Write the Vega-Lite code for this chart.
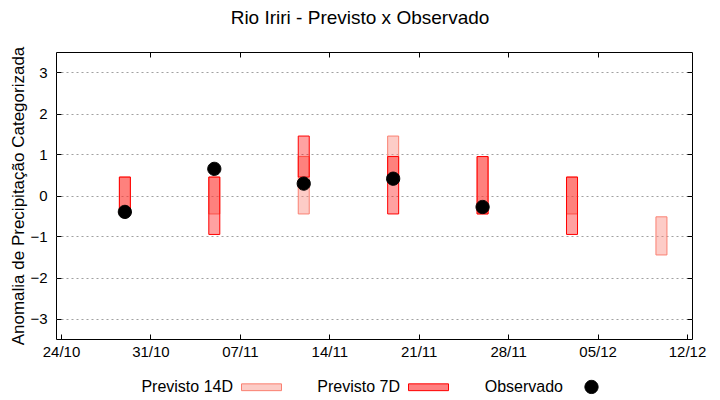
{
  "$schema": "https://vega.github.io/schema/vega-lite/v6.json",
  "width": 636,
  "height": 287,
  "autosize": {"type": "none"},
  "padding": {"left": 56, "top": 52, "right": 28, "bottom": 61},
  "background": "white",
  "title": {
    "text": "Rio Iriri - Previsto x Observado",
    "font": "Liberation Sans",
    "fontSize": 19,
    "fontWeight": "normal",
    "color": "#000000",
    "anchor": "middle",
    "frame": "group",
    "baseline": "alphabetic",
    "dx": -14,
    "offset": 3
  },
  "config": {
    "font": "Liberation Sans",
    "view": {"stroke": "#000000", "strokeWidth": 1},
    "axis": {
      "labelFont": "Liberation Sans",
      "labelFontSize": 15,
      "labelColor": "#000000",
      "titleFont": "Liberation Sans",
      "titleFontSize": 17,
      "titleFontWeight": "normal",
      "titleColor": "#000000",
      "domain": false,
      "tickColor": "#000000",
      "tickSize": -5,
      "tickWidth": 1
    },
    "legend": {
      "orient": "none", "legendX": 185, "legendY": 314, "direction": "horizontal",
      "symbolSize": 1600, "symbolStrokeWidth": 1,
      "labelFont": "Liberation Sans", "labelFontSize": 16, "labelColor": "#000000",
      "labelAlign": "right", "labelOffset": -49, "labelLimit": 0,
      "columnPadding": 33
    }
  },
  "datasets": {
    "prev": [
      {"data": "2023-10-29", "serie": "Previsto 14D", "lo": -0.45, "hi": 0.45},
      {"data": "2023-11-05", "serie": "Previsto 14D", "lo": -0.45, "hi": 0.45},
      {"data": "2023-11-12", "serie": "Previsto 14D", "lo": -0.45, "hi": 0.95},
      {"data": "2023-11-19", "serie": "Previsto 14D", "lo": 0.45, "hi": 1.45},
      {"data": "2023-11-26", "serie": "Previsto 14D", "lo": -0.45, "hi": 0.95},
      {"data": "2023-12-03", "serie": "Previsto 14D", "lo": -0.45, "hi": 0.45},
      {"data": "2023-12-10", "serie": "Previsto 14D", "lo": -1.45, "hi": -0.52},
      {"data": "2023-10-29", "serie": "Previsto 7D", "lo": -0.45, "hi": 0.45},
      {"data": "2023-11-05", "serie": "Previsto 7D", "lo": -0.95, "hi": 0.45},
      {"data": "2023-11-12", "serie": "Previsto 7D", "lo": 0.45, "hi": 1.45},
      {"data": "2023-11-19", "serie": "Previsto 7D", "lo": -0.45, "hi": 0.95},
      {"data": "2023-11-26", "serie": "Previsto 7D", "lo": -0.45, "hi": 0.95},
      {"data": "2023-12-03", "serie": "Previsto 7D", "lo": -0.95, "hi": 0.45}
    ],
    "obs": [
      {"data": "2023-10-29", "serie": "Observado", "obs": -0.4},
      {"data": "2023-11-05", "serie": "Observado", "obs": 0.65},
      {"data": "2023-11-12", "serie": "Observado", "obs": 0.29},
      {"data": "2023-11-19", "serie": "Observado", "obs": 0.41},
      {"data": "2023-11-26", "serie": "Observado", "obs": -0.28}
    ]
  },
  "resolve": {"axis": {"x": "independent", "y": "independent"}},
  "layer": [
    {
      "data": {"name": "prev"},
      "transform": [{"filter": "datum.serie === 'Previsto 14D'"}],
      "mark": {"type": "bar", "size": 11, "fill": "#fa8072", "stroke": "#fa8072", "strokeWidth": 1, "fillOpacity": 0.4, "strokeOpacity": 1},
      "encoding": {
        "x": {
          "field": "data", "type": "temporal",
          "scale": {"type": "utc", "domain": [{"year": 2023, "month": 10, "date": 24, "utc": true}, {"year": 2023, "month": 12, "date": 12, "utc": true}]},
          "axis": {
            "orient": "bottom", "title": null, "format": "%d/%m", "grid": false,
            "labelPadding": 10, "labelFlush": false, "labelOverlap": false,
            "values": [
              {"year": 2023, "month": 10, "date": 24, "utc": true},
              {"year": 2023, "month": 10, "date": 31, "utc": true},
              {"year": 2023, "month": 11, "date": 7, "utc": true},
              {"year": 2023, "month": 11, "date": 14, "utc": true},
              {"year": 2023, "month": 11, "date": 21, "utc": true},
              {"year": 2023, "month": 11, "date": 28, "utc": true},
              {"year": 2023, "month": 12, "date": 5, "utc": true},
              {"year": 2023, "month": 12, "date": 12, "utc": true}
            ]
          }
        },
        "y": {
          "field": "lo", "type": "quantitative",
          "scale": {"domain": [-3.5, 3.5], "nice": false, "zero": false},
          "axis": {
            "orient": "left", "title": "Anomalia de Precipitação Categorizada",
            "values": [-3, -2, -1, 0, 1, 2, 3],
            "grid": true, "gridColor": "#a0a0a0", "gridDash": [2, 3], "gridWidth": 1,
            "labelPadding": 14, "titlePadding": 2
          }
        },
        "y2": {"field": "hi"}
      }
    },
    {
      "data": {"name": "prev"},
      "transform": [{"filter": "datum.serie === 'Previsto 7D'"}],
      "mark": {"type": "bar", "size": 11, "fill": "#ff0000", "stroke": "#ff0000", "strokeWidth": 1, "fillOpacity": 0.37, "strokeOpacity": 1},
      "encoding": {
        "x": {"field": "data", "type": "temporal", "axis": null},
        "y": {"field": "lo", "type": "quantitative", "axis": null},
        "y2": {"field": "hi"}
      }
    },
    {
      "data": {"name": "obs"},
      "mark": {"type": "point", "filled": true, "size": 1600, "opacity": 1, "strokeWidth": 1},
      "encoding": {
        "x": {
          "field": "data", "type": "temporal",
          "axis": {
            "orient": "top", "title": null, "labels": false, "grid": false,
            "values": [
              {"year": 2023, "month": 10, "date": 31, "utc": true},
              {"year": 2023, "month": 11, "date": 7, "utc": true},
              {"year": 2023, "month": 11, "date": 14, "utc": true},
              {"year": 2023, "month": 11, "date": 21, "utc": true},
              {"year": 2023, "month": 11, "date": 28, "utc": true},
              {"year": 2023, "month": 12, "date": 5, "utc": true}
            ]
          }
        },
        "y": {
          "field": "obs", "type": "quantitative",
          "axis": {"orient": "right", "title": null, "labels": false, "grid": false, "values": [-3, -2, -1, 0, 1, 2, 3]}
        },
        "color": {
          "field": "serie", "type": "nominal",
          "scale": {"domain": ["Previsto 14D", "Previsto 7D", "Observado"], "range": ["#fcccc6", "#ff8080", "#000000"]},
          "legend": {"title": null}
        },
        "stroke": {
          "field": "serie", "type": "nominal",
          "scale": {"domain": ["Previsto 14D", "Previsto 7D", "Observado"], "range": ["#fa8072", "#ff0000", "#000000"]},
          "legend": {"title": null}
        },
        "shape": {
          "field": "serie", "type": "nominal",
          "scale": {"domain": ["Previsto 14D", "Previsto 7D", "Observado"], "range": ["M-1,-0.17L1,-0.17L1,0.17L-1,0.17Z", "M-1,-0.17L1,-0.17L1,0.17L-1,0.17Z", "M0.33,0A0.33,0.33,0,1,1,-0.33,0A0.33,0.33,0,1,1,0.33,0Z"]},
          "legend": {"title": null}
        }
      }
    }
  ]
}
